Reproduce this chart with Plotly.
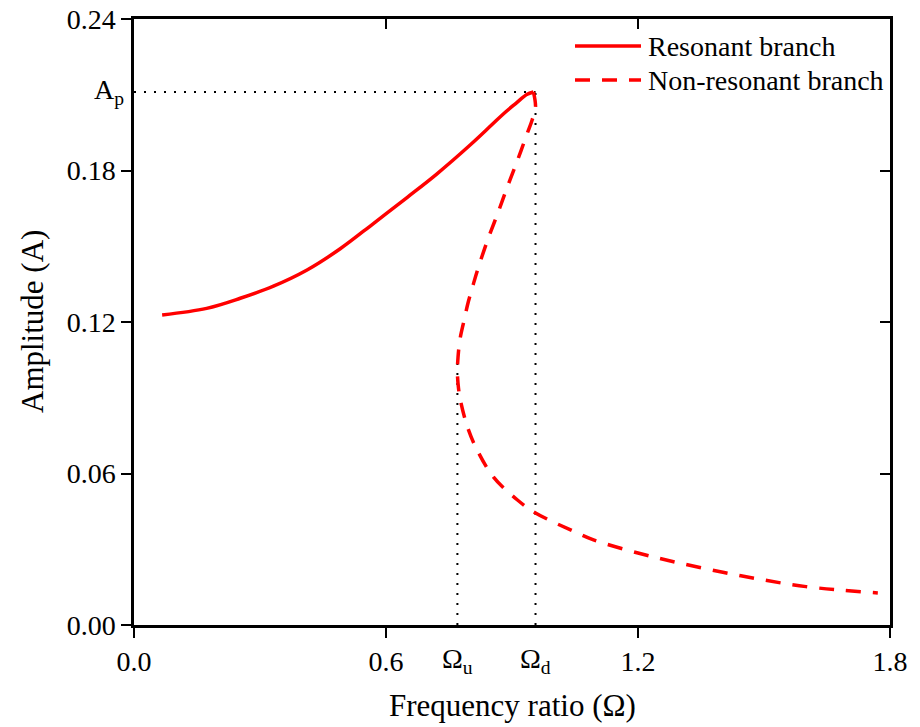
import plotly.graph_objects as go

# ---- data ----
res_omega = [0.067, 0.173, 0.253, 0.332, 0.412, 0.491, 0.570, 0.650, 0.720, 0.801, 0.850, 0.880, 0.910, 0.935, 0.951]
res_amp = [0.1228, 0.1254, 0.1294, 0.1342, 0.1406, 0.1490, 0.1590, 0.1693, 0.1785, 0.1902, 0.1978, 0.2025, 0.2067, 0.2101, 0.2111]

nr_omega = [0.951, 0.956, 0.948, 0.937, 0.913, 0.889, 0.866, 0.842, 0.818, 0.808, 0.796, 0.785, 0.776, 0.7715,
            0.770, 0.7725, 0.777, 0.794, 0.817, 0.856, 0.913, 0.956, 1.056, 1.094, 1.2, 1.3, 1.445, 1.6, 1.771]
nr_amp = [0.2111, 0.205, 0.200, 0.195, 0.184, 0.1735, 0.163, 0.1525, 0.1406, 0.135, 0.128, 0.120, 0.113, 0.106,
          0.100, 0.094, 0.0891, 0.0784, 0.0693, 0.0586, 0.0495, 0.0444, 0.0364, 0.0337, 0.0285, 0.0245, 0.0195, 0.0152, 0.0127]

omega_u = 0.770
omega_d = 0.956
A_p = 0.2111
A_u = 0.106

x_ticks = [0.0, 0.6, 1.2, 1.8]
x_ticklabels = ["0.0", "0.6", "1.2", "1.8"]
y_ticks = [0.00, 0.06, 0.12, 0.18, 0.24]
y_ticklabels = ["0.00", "0.06", "0.12", "0.18", "0.24"]

legend_names = ["Resonant branch", "Non-resonant branch"]

FONT = "Liberation Serif"
RED = "#ff0000"

fig = go.Figure()

fig.add_trace(go.Scatter(x=res_omega, y=res_amp, mode="lines", name=legend_names[0],
                         line=dict(color=RED, width=3.5, shape="spline", smoothing=1.0),
                         showlegend=False))
fig.add_trace(go.Scatter(x=nr_omega, y=nr_amp, mode="lines", name=legend_names[1],
                         line=dict(color=RED, width=3.5, dash="15px,12px", shape="spline", smoothing=1.0),
                         showlegend=False))
# invisible trace on secondary axes so the mirrored tick axes render
fig.add_trace(go.Scatter(x=[0], y=[0], xaxis="x2", yaxis="y2", mode="markers",
                         marker=dict(opacity=0), showlegend=False, hoverinfo="skip"))

dot = dict(color="black", width=2, dash="2px,8px")
shapes = [
    dict(type="line", xref="x", yref="y", x0=0, x1=omega_d, y0=A_p, y1=A_p, line=dot, layer="below"),
    dict(type="line", xref="x", yref="y", x0=omega_d, x1=omega_d, y0=0, y1=A_p, line=dot, layer="below"),
    dict(type="line", xref="x", yref="y", x0=omega_u, x1=omega_u, y0=0, y1=A_u, line=dot, layer="below"),
]

# manual legend (pixel -> paper conversion)
L, R, T, B = 134, 890, 19, 625
def px(xp):
    return (xp - L) / (R - L)
def py(yp):
    return (B - yp) / (B - T)

shapes.append(dict(type="line", xref="paper", yref="paper", x0=px(575), x1=px(641), y0=py(46), y1=py(46),
                   line=dict(color=RED, width=3.5)))
shapes.append(dict(type="line", xref="paper", yref="paper", x0=px(575), x1=px(641), y0=py(80), y1=py(80),
                   line=dict(color=RED, width=3.5, dash="15px,12px")))

annotations = [
    dict(xref="paper", yref="paper", x=px(646), y=py(46), text=legend_names[0], showarrow=False,
         xanchor="left", yanchor="middle", font=dict(family=FONT, size=28, color="black")),
    dict(xref="paper", yref="paper", x=px(646), y=py(80), text=legend_names[1], showarrow=False,
         xanchor="left", yanchor="middle", font=dict(family=FONT, size=28, color="black")),
    dict(xref="paper", yref="y", x=px(126), y=A_p, text="A<sub>p</sub>", showarrow=False,
         xanchor="right", yanchor="middle", font=dict(family=FONT, size=28, color="black")),
    dict(xref="x", yref="paper", x=omega_u, y=py(660), text="Ω<sub>u</sub>", showarrow=False,
         xanchor="center", yanchor="middle", font=dict(family=FONT, size=28, color="black")),
    dict(xref="x", yref="paper", x=omega_d, y=py(660), text="Ω<sub>d</sub>", showarrow=False,
         xanchor="center", yanchor="middle", font=dict(family=FONT, size=28, color="black")),
    dict(xref="paper", yref="paper", x=0.5, y=py(705), text="Frequency ratio (Ω)", showarrow=False,
         xanchor="center", yanchor="middle", font=dict(family=FONT, size=31, color="black")),
    dict(xref="paper", yref="paper", x=px(32), y=0.5, text="Amplitude (A)", showarrow=False, textangle=-90,
         xanchor="center", yanchor="middle", font=dict(family=FONT, size=31, color="black")),
]

fig.update_layout(
    width=920, height=727,
    margin=dict(l=L, r=920 - R, t=T, b=727 - B, pad=0),
    paper_bgcolor="white", plot_bgcolor="white",
    font=dict(family=FONT, size=28, color="black"),
    shapes=shapes, annotations=annotations,
    xaxis=dict(range=[0, 1.8], tickvals=x_ticks, ticktext=x_ticklabels, ticks="outside", ticklen=10,
               tickwidth=2, tickcolor="black", showline=True, linewidth=2.5, linecolor="black",
               mirror=True, showgrid=False, zeroline=False, automargin=False,
               tickfont=dict(family=FONT, size=28)),
    yaxis=dict(range=[0, 0.24], tickvals=y_ticks, ticktext=y_ticklabels, ticks="outside", ticklen=10,
               tickwidth=2, tickcolor="black", showline=True, linewidth=2.5, linecolor="black",
               mirror=True, showgrid=False, zeroline=False, automargin=False,
               tickfont=dict(family=FONT, size=28)),
    xaxis2=dict(range=[0, 1.8], overlaying="x", side="top", tickvals=x_ticks, showticklabels=False,
                ticks="inside", ticklen=10, tickwidth=2, tickcolor="black", showgrid=False,
                zeroline=False, showline=False, automargin=False),
    yaxis2=dict(range=[0, 0.24], overlaying="y", side="right", tickvals=y_ticks, showticklabels=False,
                ticks="inside", ticklen=10, tickwidth=2, tickcolor="black", showgrid=False,
                zeroline=False, showline=False, automargin=False),
    showlegend=False,
)

fig.write_html("out.html")
